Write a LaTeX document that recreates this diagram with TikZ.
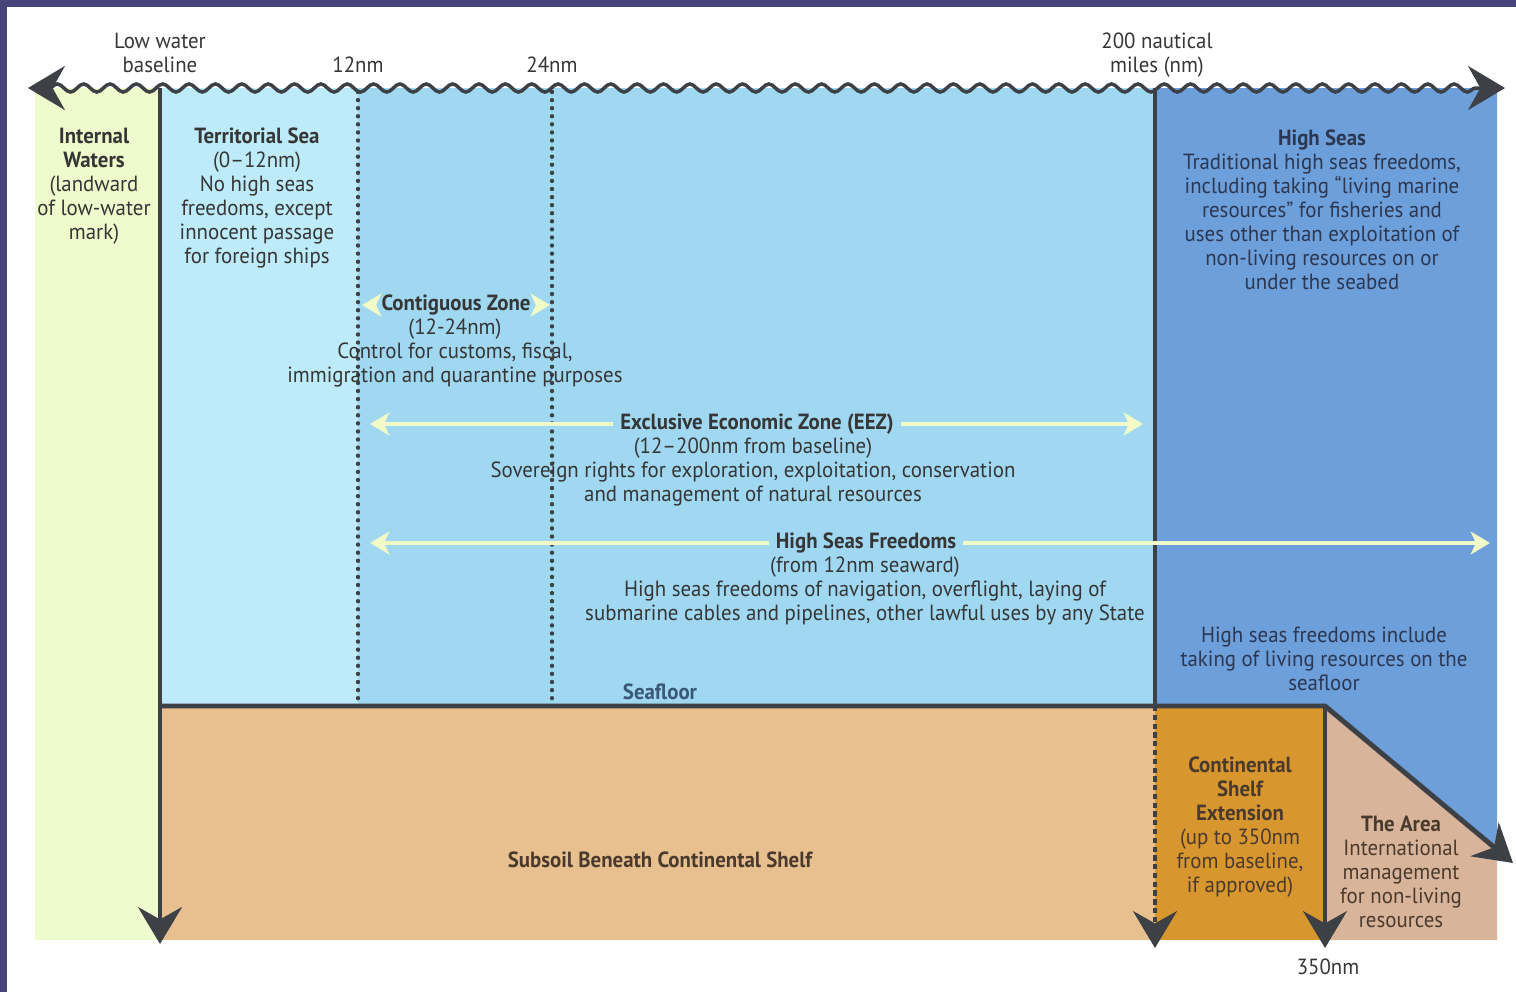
\documentclass[tikz,border=0pt]{standalone}
\usepackage{fontspec}
\setmainfont{PT Sans}[FakeStretch=0.95]
\usetikzlibrary{arrows.meta,decorations.pathmorphing}
\definecolor{rahmen}{HTML}{46467A}
\definecolor{binnen}{HTML}{EEFBCC}
\definecolor{kuestenmeer}{HTML}{BDEBFA}
\definecolor{zone}{HTML}{A0D8F2}
\definecolor{hohesee}{HTML}{6D9FDB}
\definecolor{boden}{HTML}{E8C090}
\definecolor{sockel}{HTML}{D8962E}
\definecolor{gebiet}{HTML}{D8B59A}
\definecolor{liniengrau}{HTML}{3D4045}
\definecolor{pfeilgelb}{HTML}{F2FAC8}
\definecolor{textgrau}{HTML}{363636}
\definecolor{textblau}{HTML}{2C3752}
\definecolor{textbraun}{HTML}{4A3A2E}
\definecolor{seeblau}{HTML}{3A5878}
\begin{document}
\begin{tikzpicture}[x=0.02cm,y=-0.02cm,
		txt/.style={font=\fontsize{12.5}{13.66}\selectfont,align=center,inner sep=0pt,text=textgrau},
		fett/.style={txt,font=\fontsize{12.5}{13.66}\selectfont\bfseries},
		linie/.style={line width=2.3pt,draw=liniengrau},
		punkte/.style={line width=2.5pt,draw=liniengrau,line cap=round,dash pattern=on 0pt off 4.6pt},
		spitze/.style={-{Stealth[length=21pt,width=25pt,inset=7pt]}},
		halbpfeil/.style={line width=2pt,draw=pfeilgelb,-{Stealth[length=11pt,width=13pt,inset=3pt]}}]
	\useasboundingbox (0,0) rectangle (1516,992);
	% Rahmen
	\fill[rahmen] (0,0) rectangle (1516,7);
	\fill[rahmen] (0,0) rectangle (7,992);
	% Flaechen
	\fill[binnen] (35,88) rectangle (160,940);
	\fill[kuestenmeer] (160,88) rectangle (358,706);
	\fill[zone] (358,88) rectangle (1155,706);
	\fill[hohesee] (1155,88) to (1497,88) to (1497,850) to (1325,706) to (1155,706) to cycle;
	\fill[boden] (160,706) rectangle (1155,940);
	\fill[sockel] (1155,706) rectangle (1325,940);
	\fill[gebiet] (1325,706) to (1497,850) to (1497,940) to (1325,940) to cycle;
	% Eckpunkte
	\coordinate (wLeft) at (28,88);
	\coordinate (wRight) at (1505,88);
	\coordinate (lwTop) at (160,88);
	\coordinate (lwBot) at (160,944);
	\coordinate (m12Top) at (358,92);
	\coordinate (m12Bot) at (358,704);
	\coordinate (m24Top) at (552,92);
	\coordinate (m24Bot) at (552,704);
	\coordinate (m200Top) at (1155,88);
	\coordinate (m200Mid) at (1155,706);
	\coordinate (m200Bot) at (1155,948);
	\coordinate (m350Top) at (1325,706);
	\coordinate (m350Bot) at (1325,948);
	\coordinate (sfLeft) at (160,706);
	\coordinate (sfEnd) at (1513,863);
	% Zonengrenzen
	\draw[punkte] (m12Top) to (m12Bot);
	\draw[punkte] (m24Top) to (m24Bot);
	\draw[linie] (m200Top) to (m200Mid);
	\draw[linie,dash pattern=on 3pt off 2pt,spitze] (m200Mid) to (m200Bot);
	\draw[linie,spitze] (m350Top) to (m350Bot);
	\draw[linie,spitze] (lwTop) to (lwBot);
	\draw[linie,line width=2.8pt,spitze] (sfLeft) to (m350Top) to (sfEnd);
	% Wasserlinie
	\draw[linie,line width=2pt,{Stealth[length=21pt,width=25pt,inset=7pt]}-{Stealth[length=21pt,width=25pt,inset=7pt]},
		decorate,decoration={snake,segment length=15pt,amplitude=2.3pt,pre length=12pt,post length=12pt}] (wLeft) -- (wRight);
	% Beschriftung oben
	\node[txt] (lowwater) at (160,53) {Low water\\baseline};
	\node[txt] (nm12) at (358,65) {12nm};
	\node[txt] (nm24) at (552,65) {24nm};
	\node[txt] (nm200) at (1157,55) {200 nautical\\miles (nm)};
	% Zonen
	\node[txt] (internal) at (94,186) {\bfseries Internal\\\bfseries Waters\\(landward\\of low-water\\mark)};
	\node[txt] (territorial) at (257,198) {\bfseries Territorial Sea\\(0--12nm)\\No high seas\\freedoms, except\\innocent passage\\for foreign ships};
	\node[fett,inner xsep=3pt] (contig) at (456,305) {Contiguous Zone};
	\coordinate (contigL) at (362,305);
	\coordinate (contigR) at (550,305);
	\draw[halbpfeil] (contig.west) to (contigL);
	\draw[halbpfeil] (contig.east) to (contigR);
	\node[txt] (contigText) at (455,353) {(12-24nm)\\Control for customs, fiscal,\\immigration and quarantine purposes};
	\node[fett,inner xsep=4pt] (eez) at (757,424) {Exclusive Economic Zone (EEZ)};
	\coordinate (eezL) at (370,424);
	\coordinate (eezR) at (1143,424);
	\draw[halbpfeil] (eez.west) to (eezL);
	\draw[halbpfeil] (eez.east) to (eezR);
	\node[txt] (eezText) at (753,472) {(12--200nm from baseline)\\Sovereign rights for exploration, exploitation, conservation\\and management of natural resources};
	\node[fett,inner xsep=4pt] (hsf) at (866,543) {High Seas Freedoms};
	\coordinate (hsfL) at (370,543);
	\coordinate (hsfR) at (1490,543);
	\draw[halbpfeil] (hsf.west) to (hsfL);
	\draw[halbpfeil] (hsf.east) to (hsfR);
	\node[txt] (hsfText) at (865,591) {(from 12nm seaward)\\High seas freedoms of navigation, overflight, laying of\\submarine cables and pipelines, other lawful uses by any State};
	\node[txt,text=textblau] (highseas) at (1322,210) {\bfseries High Seas\\Traditional high seas freedoms,\\including taking ``living marine\\resources'' for fisheries and\\uses other than exploitation of\\non-living resources on or\\under the seabed};
	\node[txt,text=textblau] (seafloorFree) at (1324,659) {High seas freedoms include\\taking of living resources on the\\seafloor};
	% Boden
	\node[fett,text=seeblau] (seafloor) at (660,692) {Seafloor};
	\node[fett,text=textbraun] (subsoil) at (660,860) {Subsoil Beneath Continental Shelf};
	\node[txt,text=textbraun] (shelf) at (1240,827) {\bfseries Continental\\\bfseries Shelf\\\bfseries Extension\\(up to 350nm\\from baseline,\\if approved)};
	\node[txt,text=textbraun] (area) at (1401,872) {\bfseries The Area\\International\\management\\for non-living\\resources};
	\node[txt] (nm350) at (1328,967) {350nm};
\end{tikzpicture}
\end{document}
